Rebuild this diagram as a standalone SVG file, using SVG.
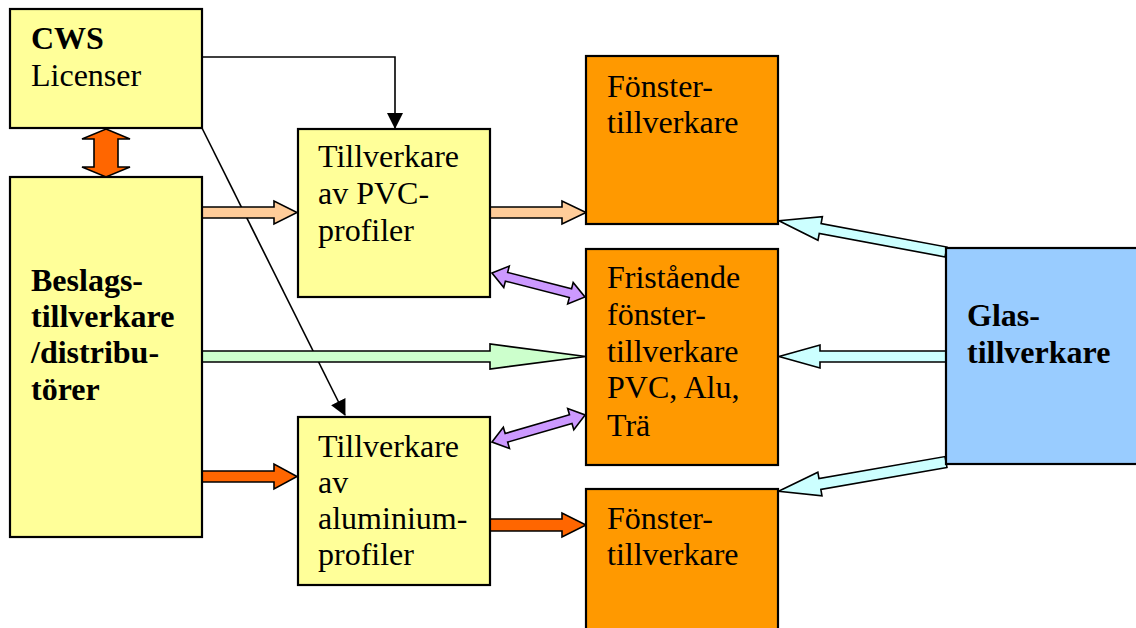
<svg xmlns="http://www.w3.org/2000/svg" width="1136" height="628" viewBox="0 0 1136 628">
<defs>
<style>
.box{stroke:#000;stroke-width:2.2}
.y{fill:#FFFF99}
.o{fill:#FF9900}
.b{fill:#99CCFF}
.t{font-family:"Liberation Serif","Times New Roman",serif;font-size:32px;fill:#000}
.bold{font-weight:bold}
.ar{stroke:#000;stroke-width:1.6;stroke-linejoin:miter}
.line{fill:none;stroke:#000;stroke-width:1.6}
</style>
<marker id="ah" markerUnits="userSpaceOnUse" markerWidth="16" markerHeight="16" viewBox="0 0 16 16" refX="15" refY="8" orient="auto">
<path d="M0,0 L16,8 L0,16 Z" fill="#000"/>
</marker>
</defs>
<rect width="1136" height="628" fill="#fff"/>

<g id="connectors">
<polyline class="line" points="202,57 395,57 395,128" marker-end="url(#ah)"/>
<line class="line" x1="202" y1="128" x2="345" y2="415" marker-end="url(#ah)"/>
<polygon class="ar" fill="#FF6600" points="106,129 130,139 118,139 118,167 130,167 106,177 82,167 94,167 94,139 82,139"/>
<polygon class="ar" fill="#FFCC99" points="202,207 274,207 274,201 297,212.5 274,224 274,218 202,218"/>
<polygon class="ar" fill="#FFCC99" points="490,207 562,207 562,201 586,212.5 562,224 562,218 490,218"/>
<polygon class="ar" fill="#CCFFCC" points="202,351 490,351 490,344 586,356.5 490,369 490,362 202,362"/>
<polygon class="ar" fill="#FF6600" points="202,471 274,471 274,464 297,476.5 274,489 274,482 202,482"/>
<polygon class="ar" fill="#FF6600" points="490,519 562,519 562,513 586,525 562,537 562,531 490,531"/>
<polygon class="ar" fill="#CC99FF" transform="translate(492,273) rotate(14.47)" points="0,0 15,-11 15,-4.5 81,-4.5 81,-11 96,0 81,11 81,4.5 15,4.5 15,11"/>
<polygon class="ar" fill="#CC99FF" transform="translate(492,442) rotate(-16.19)" points="0,0 15,-11 15,-4.5 82,-4.5 82,-11 97,0 82,11 82,4.5 15,4.5 15,11"/>
<polygon class="ar" fill="#CCFFFF" transform="translate(946,252) rotate(190.58)" points="0,-5 128,-5 128,-12 170,0 128,12 128,5 0,5"/>
<polygon class="ar" fill="#CCFFFF" transform="translate(946,356.5) rotate(180)" points="0,-5.5 126,-5.5 126,-11.5 167,0 126,11.5 126,5.5 0,5.5"/>
<polygon class="ar" fill="#CCFFFF" transform="translate(946,462) rotate(170.09)" points="0,-5.5 128,-5.5 128,-12 170,0 128,12 128,5.5 0,5.5"/>
</g>

<g id="cws">
<rect class="box y" x="10" y="9" width="192" height="119"/>
<text class="t bold" x="31" y="49">CWS</text>
<text class="t" x="31" y="86">Licenser</text>
</g>

<g id="beslag">
<rect class="box y" x="10" y="177" width="192" height="360"/>
<text class="t bold" x="31" y="291">Beslags-</text>
<text class="t bold" x="31" y="327">tillverkare</text>
<text class="t bold" x="31" y="363">/distribu-</text>
<text class="t bold" x="31" y="400">törer</text>
</g>

<g id="pvc">
<rect class="box y" x="298" y="129" width="192" height="168"/>
<text class="t" x="318" y="167">Tillverkare</text>
<text class="t" x="318" y="204">av PVC-</text>
<text class="t" x="318" y="241">profiler</text>
</g>

<g id="alu">
<rect class="box y" x="298" y="417" width="192" height="168"/>
<text class="t" x="318" y="457">Tillverkare</text>
<text class="t" x="318" y="493">av</text>
<text class="t" x="318" y="529">aluminium-</text>
<text class="t" x="318" y="565">profiler</text>
</g>

<g id="fonster1">
<rect class="box o" x="586" y="56" width="192" height="168"/>
<text class="t" x="607" y="97">Fönster-</text>
<text class="t" x="607" y="133">tillverkare</text>
</g>

<g id="fristaende">
<rect class="box o" x="586" y="249" width="192" height="216"/>
<text class="t" x="607" y="288">Fristående</text>
<text class="t" x="607" y="325">fönster-</text>
<text class="t" x="607" y="362">tillverkare</text>
<text class="t" x="607" y="398">PVC, Alu,</text>
<text class="t" x="607" y="436">Trä</text>
</g>

<g id="fonster2">
<rect class="box o" x="586" y="489" width="192" height="160"/>
<text class="t" x="607" y="529">Fönster-</text>
<text class="t" x="607" y="565">tillverkare</text>
</g>

<g id="glas">
<rect class="box b" x="946" y="248" width="200" height="216"/>
<text class="t bold" x="967" y="326">Glas-</text>
<text class="t bold" x="967" y="363">tillverkare</text>
</g>
</svg>
